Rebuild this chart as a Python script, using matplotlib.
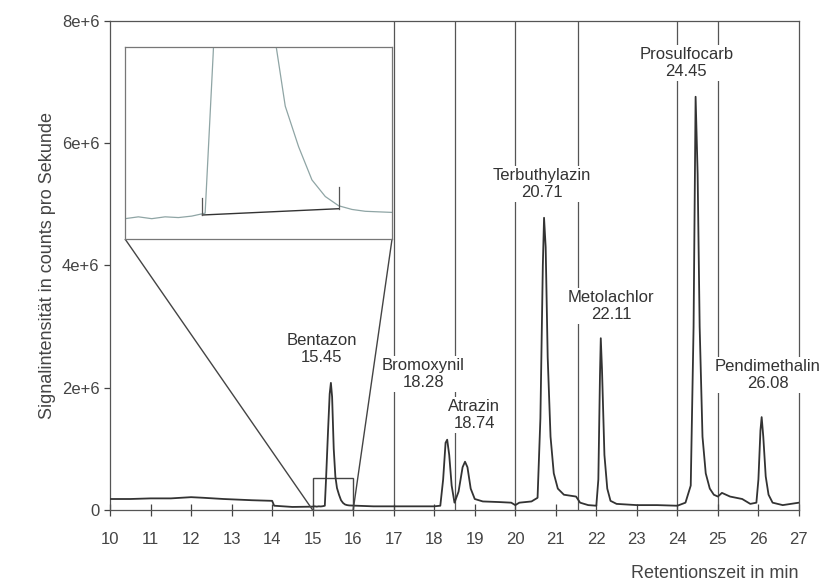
import numpy as np
import matplotlib
matplotlib.use("Agg")
import matplotlib.pyplot as plt
from mpl_toolkits.axes_grid1.inset_locator import mark_inset

plt.rcParams['font.family'] = ['Liberation Sans', 'DejaVu Sans']

# chromatogram trace (time in min, intensity in counts/s)
t = [10.0, 10.5, 11.0, 11.5, 12.0, 12.3, 12.8, 13.5, 14.0, 14.05, 14.5, 15.0,
     15.05, 15.1, 15.15, 15.2, 15.25, 15.3, 15.33, 15.38, 15.42, 15.45, 15.48,
     15.52, 15.56, 15.6, 15.65, 15.7, 15.75, 15.8, 15.85, 15.9, 16.0, 16.5,
     17.0, 17.5, 18.0, 18.15, 18.22, 18.28, 18.32, 18.37, 18.43, 18.5, 18.6,
     18.7, 18.76, 18.82, 18.9, 19.0, 19.2, 19.6, 19.9, 20.0, 20.1, 20.4, 20.55,
     20.62, 20.68, 20.71, 20.75, 20.8, 20.87, 20.95, 21.05, 21.2, 21.5, 21.6,
     21.8, 22.0, 22.05, 22.09, 22.11, 22.14, 22.2, 22.27, 22.35, 22.5, 23.0,
     23.5, 24.0, 24.2, 24.33, 24.4, 24.45, 24.5, 24.55, 24.62, 24.7, 24.8, 24.9,
     25.0, 25.1, 25.3, 25.6, 25.8, 25.95, 26.0, 26.05, 26.08, 26.12, 26.18,
     26.25, 26.35, 26.6, 27.0]
signal = [0.18, 0.18, 0.19, 0.19, 0.21, 0.20, 0.18, 0.16, 0.15, 0.07, 0.05, 0.055,
          0.06, 0.055, 0.06, 0.058, 0.062, 0.07, 0.5, 1.3, 1.9, 2.08, 1.85,
          1.0, 0.55, 0.36, 0.25, 0.16, 0.115, 0.09, 0.08, 0.075, 0.072, 0.06,
          0.06, 0.06, 0.06, 0.07, 0.5, 1.1, 1.15, 0.9, 0.4, 0.12, 0.3,
          0.7, 0.79, 0.7, 0.35, 0.18, 0.14, 0.13, 0.12, 0.08, 0.12, 0.14, 0.2,
          1.5, 4.0, 4.78, 4.3, 2.5, 1.2, 0.6, 0.35, 0.25, 0.22, 0.12,
          0.08, 0.07, 0.5, 2.2, 2.81, 2.3, 0.9, 0.35, 0.15, 0.1, 0.08,
          0.08, 0.07, 0.12, 0.4, 3.0, 6.76, 5.5, 3.0, 1.2, 0.6, 0.35, 0.25,
          0.22, 0.28, 0.22, 0.18, 0.1, 0.12, 0.5, 1.3, 1.52, 1.2, 0.55,
          0.25, 0.12, 0.08, 0.12]
signal = [v * 1e6 for v in signal]

# SIM window borders
windows = [17, 18.52, 20, 21.56, 24, 25]

# peak labels
peak_names = ["Bentazon\n15.45", "Bromoxynil\n18.28", "Atrazin\n18.74",
              "Terbuthylazin\n20.71", "Metolachlor\n22.11", "Prosulfocarb\n24.45",
              "Pendimethalin\n26.08"]
label_x = [15.23, 17.73, 18.99, 20.65, 22.37, 24.22, 26.23]
label_y = [2.63e6, 2.22e6, 1.55e6, 5.33e6, 3.34e6, 7.31e6, 2.21e6]

# integration marks in the inset
integ_t = [15.29, 15.80]
integ_y = [0.065e6, 0.082e6]
integ_top = [0.11e6, 0.14e6]

xticks = list(range(10, 28))
yticks = [0, 2e6, 4e6, 6e6, 8e6]
ytick_labels = ["0", "2e+6", "4e+6", "6e+6", "8e+6"]

fig = plt.figure(figsize=(8.28, 5.85), dpi=100)
ax = fig.add_axes([0.1329, 0.1282, 0.832, 0.836])

ax.plot(t, signal, color="#333333", lw=1.3, zorder=3)
for w in windows:
    ax.axvline(w, color="#555555", lw=0.9, zorder=1)

for name, lx, ly in zip(peak_names, label_x, label_y):
    ax.text(lx, ly, name, ha="center", va="center", fontsize=12, color="#333333",
            linespacing=1.15, zorder=6, clip_on=False,
            bbox=dict(facecolor="white", edgecolor="none", pad=1.5))

ax.set_xlim(10, 27)
ax.set_ylim(0, 8e6)
ax.set_xticks(xticks)
ax.set_yticks(yticks)
ax.set_yticklabels(ytick_labels)
ax.tick_params(labelsize=12, colors="#444444", width=0.9)
ax.tick_params(axis="x", direction="inout", length=8, pad=12)
ax.tick_params(axis="y", direction="out", length=4)
for s in ax.spines.values():
    s.set_color("#555555")
    s.set_linewidth(0.9)
ax.set_ylabel("Signalintensität in counts pro Sekunde", fontsize=13, color="#444444")
ax.set_xlabel("Retentionszeit in min", fontsize=13, color="#444444", loc="right",
              labelpad=13)

# inset with the Bentazon baseline
axins = fig.add_axes([0.151, 0.5915, 0.3225, 0.328])
axins.plot(t, signal, color="#8fa5a5", lw=0.9)
axins.plot(integ_t, integ_y, color="#333333", lw=1.0)
for it, iy, itop in zip(integ_t, integ_y, integ_top):
    axins.plot([it, it], [iy, itop], color="#555555", lw=0.9)
axins.set_xlim(15, 16)
axins.set_ylim(0, 0.52e6)
axins.set_xticks([])
axins.set_yticks([])
for s in axins.spines.values():
    s.set_color("#777777")
    s.set_linewidth(0.9)
mark_inset(ax, axins, loc1=3, loc2=4, fc="none", ec="#444444", lw=1.0)

fig.savefig("out.png", dpi=100)
